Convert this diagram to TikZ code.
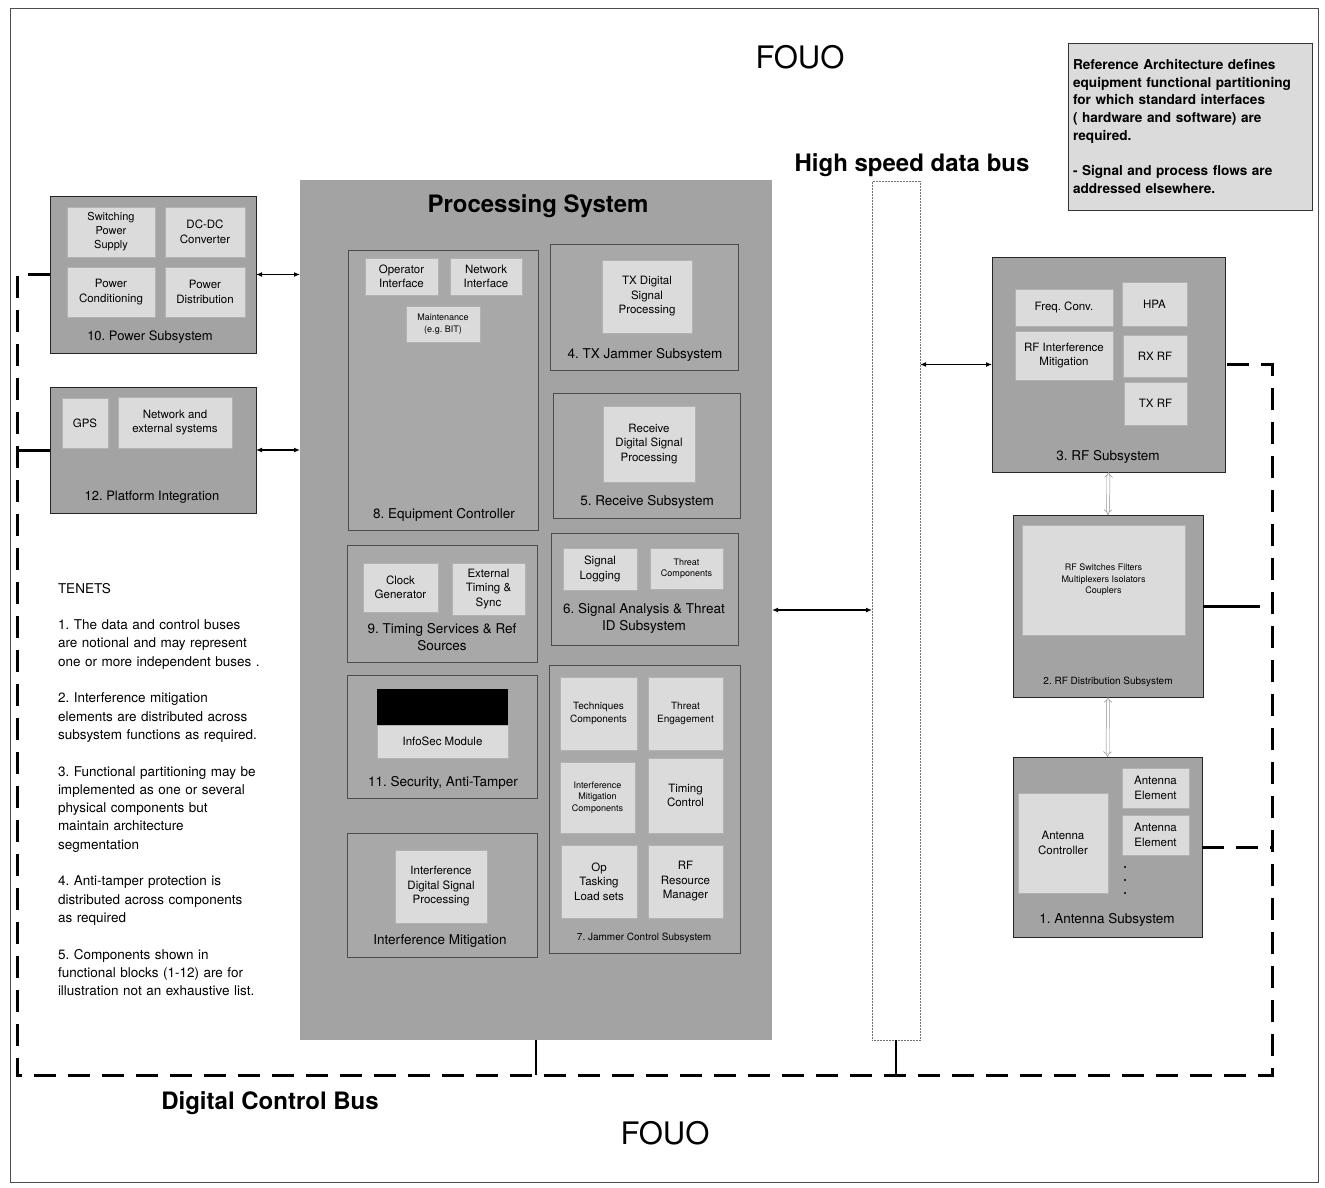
\documentclass[tikz,border=0pt]{standalone}
\usepackage{fontspec}
\setmainfont{TeX Gyre Heros}
\usetikzlibrary{arrows.meta}
\frenchspacing
\newcommand\fs[2]{\fontsize{#1}{#2}\selectfont}
\definecolor{gproc}{gray}{0.64}
\definecolor{gsub}{gray}{0.66}
\definecolor{gouter}{gray}{0.64}
\definecolor{gcomp}{gray}{0.86}
\definecolor{gnote}{gray}{0.86}
\newcommand\bx[7]{\node[#6, minimum width={(#4-#2)*1pt}, minimum height={(#5-#3)*1pt}] (#1) at ({(#2+#4)/2},{(#3+#5)/2}) {#7};}
\begin{document}
\begin{tikzpicture}[x=1pt,y=-1pt,
  every node/.style={inner sep=1pt, outer sep=0pt},
  framebox/.style={draw=black!70, line width=0.6pt},
  procbox/.style={fill=gproc},
  outerbox/.style={draw=black!85, line width=0.6pt, fill=gouter},
  subbox/.style={draw=black!70, line width=0.5pt, fill=gsub},
  comp/.style={draw=black!30, line width=0.4pt, fill=gcomp, align=center, font=\fs{11.5}{14.5}},
  smallc/.style={font=\fs{9}{11.5}},
  midc/.style={font=\fs{10}{12.5}},
  busbox/.style={draw=black!55, densely dotted, line width=0.5pt, fill=white},
  notebox/.style={draw=black!80, line width=0.6pt, fill=gnote},
  lbl/.style={font=\fs{13.5}{17}, align=center, inner sep=0pt},
  slbl/.style={font=\fs{10}{12}, align=center, inner sep=0pt},
  title/.style={font=\bfseries\fs{24}{28}, inner sep=0pt},
  cbus/.style={line width=3pt, dash pattern=on 22pt off 12pt},
  stub/.style={line width=3pt},
  vstub/.style={line width=2pt},
  darr/.style={line width=1.6pt, {Latex[length=6pt,width=5pt]}-{Latex[length=6pt,width=5pt]}},
  harr/.style={draw=black!45, line width=0.5pt, double=white, double distance=2.5pt, {Implies}-{Implies}}
]
\useasboundingbox (0,0) rectangle (1325,1188);
\bx{frame}{10}{8}{1318}{1182}{framebox}{}

% titles
\node[font=\fs{31}{34}, inner sep=0pt] (fouotop) at (800,57) {FOUO};
\node[font=\fs{31}{34}, inner sep=0pt] (fouobot) at (665,1133) {FOUO};
\node[title] (hsl) at (912,165) {High speed data bus};
\node[title] (dcb) at (270,1103) {Digital Control Bus};

% note
\node[notebox, anchor=north west, text width=234pt, minimum height=167pt, inner sep=5pt, align=left,
  font=\bfseries\fs{13.6}{17.7}] (note) at (1068,43)
  {Reference Architecture defines\\equipment functional partitioning\\for which standard interfaces\\( hardware and software) are\\required.\\[17.7pt]- Signal and process flows are\\addressed elsewhere.};

% tenets
\node[anchor=north west, text width=250pt, align=left, inner sep=0pt, font=\fs{13.5}{18.3}] (ten) at (58,583)
  {TENETS\\[18.3pt]
   1. The data and control buses\\are notional and may represent\\one or more independent buses .\\[18.3pt]
   2. Interference mitigation\\elements are distributed across\\subsystem functions as required.\\[18.3pt]
   3. Functional partitioning may be\\implemented as one or several\\physical components but\\maintain architecture\\segmentation\\[18.3pt]
   4. Anti-tamper protection is\\distributed across components\\as required\\[18.3pt]
   5. Components shown in\\functional blocks (1-12) are for\\illustration not an exhaustive list.};

% power subsystem
\bx{pw}{50}{196}{256}{353}{outerbox}{}
\bx{sps}{67}{207}{155}{257}{comp,font=\fs{11}{14}}{Switching\\Power\\Supply}
\bx{dcdc}{165}{207}{245}{257}{comp}{DC-DC\\Converter}
\bx{pcond}{67}{267}{155}{317}{comp}{Power\\Conditioning}
\bx{pdist}{165}{267}{245}{317}{comp}{Power\\Distribution}
\node[lbl, font=\fs{13}{16}] (pwl) at (150,337) {10. Power Subsystem};

% platform integration
\bx{pl}{50}{387}{256}{513}{outerbox}{}
\bx{gps}{62}{398}{108}{448}{comp}{GPS}
\bx{net}{118}{397}{232}{448}{comp}{Network and\\external systems}
\node[lbl, font=\fs{13}{16}] (pll) at (152,497) {12. Platform Integration};

% processing system
\bx{ps}{300}{180}{772}{1040}{procbox}{}
\node[title] (psl) at (538,206) {Processing System};

\bx{ec}{348}{250}{538}{530}{subbox}{}
\bx{opi}{365}{258}{438}{295}{comp}{Operator\\Interface}
\bx{nwi}{450}{258}{522}{295}{comp}{Network\\Interface}
\bx{mnt}{406}{306}{480}{342}{comp,smallc}{Maintenance\\(e.g. BIT)}
\node[lbl] (ecl) at (444,515) {8. Equipment Controller};

\bx{tx}{550}{244}{738}{370}{subbox}{}
\bx{txd}{602}{260}{692}{333}{comp}{TX Digital\\Signal\\Processing}
\node[lbl] (txl) at (645,355) {4. TX Jammer Subsystem};

\bx{rx}{553}{393}{740}{518}{subbox}{}
\bx{rxd}{603}{406}{695}{482}{comp}{Receive\\Digital Signal\\Processing}
\node[lbl] (rxl) at (647,502) {5. Receive Subsystem};

\bx{ts}{347}{545}{537}{662}{subbox}{}
\bx{clk}{363}{563}{438}{612}{comp}{Clock\\Generator}
\bx{ext}{452}{563}{525}{615}{comp}{External\\Timing \&\\Sync}
\node[lbl] (tsl) at (442,637) {9. Timing Services \& Ref\\Sources};

\bx{sa}{551}{533}{738}{645}{subbox}{}
\bx{slog}{563}{548}{637}{590}{comp}{Signal\\Logging}
\bx{thc}{650}{548}{723}{589}{comp,smallc}{Threat\\Components}
\node[lbl] (sal) at (644,618) {6. Signal Analysis \& Threat\\ID Subsystem};

\bx{sec}{347}{675}{537}{798}{subbox}{}
\bx{iblk}{377}{689}{508}{725}{fill=black}{}
\bx{isec}{377}{725}{508}{758}{comp}{InfoSec Module}
\node[lbl] (secl) at (443,783) {11. Security, Anti-Tamper};

\bx{im}{347}{833}{537}{957}{subbox}{}
\bx{idsp}{395}{850}{487}{923}{comp}{Interference\\Digital Signal\\Processing}
\node[lbl] (iml) at (440,941) {Interference Mitigation};

\bx{jc}{549}{665}{740}{953}{subbox}{}
\bx{tech}{560}{677}{637}{750}{comp,midc}{Techniques\\Components}
\bx{teng}{648}{677}{723}{750}{comp,midc}{Threat\\Engagement}
\bx{imc}{560}{762}{635}{833}{comp,smallc}{Interference\\Mitigation\\Components}
\bx{tcl}{648}{758}{723}{833}{comp}{Timing\\Control}
\bx{opt}{561}{845}{637}{918}{comp}{Op\\Tasking\\Load sets}
\bx{rfrm}{648}{845}{723}{918}{comp}{RF\\Resource\\Manager}
\node[slbl] (jcl) at (644,938) {7. Jammer Control Subsystem};

% high speed data bus
\bx{hs}{872}{181}{920}{1040}{busbox}{}

% RF subsystem
\bx{rf}{992}{257}{1225}{472}{outerbox}{}
\bx{fc}{1015}{289}{1113}{326}{comp}{Freq. Conv.}
\bx{rfim}{1015}{331}{1113}{380}{comp}{RF Interference\\Mitigation}
\bx{hpa}{1122}{282}{1187}{326}{comp}{HPA}
\bx{rxrf}{1123}{335}{1187}{377}{comp}{RX RF}
\bx{txrf}{1124}{382}{1187}{425}{comp}{TX RF}
\node[lbl] (rfl) at (1108,457) {3. RF Subsystem};

% RF distribution
\bx{rd}{1013}{515}{1203}{697}{outerbox}{}
\bx{rsw}{1022}{525}{1185}{635}{comp,smallc}{RF Switches Filters\\Multiplexers Isolators\\Couplers}
\node[slbl] (rdl) at (1108,682) {2. RF Distribution Subsystem};

% antenna
\bx{an}{1013}{757}{1202}{937}{outerbox}{}
\bx{actl}{1018}{793}{1108}{893}{comp}{Antenna\\Controller}
\bx{ae1}{1122}{768}{1189}{808}{comp}{Antenna\\Element}
\bx{ae2}{1122}{815}{1189}{855}{comp}{Antenna\\Element}
\foreach \yy in {867,880,893} \fill (1125,\yy) circle (1.2pt);
\node[lbl] (anl) at (1107,920) {1. Antenna Subsystem};

% digital control bus
\coordinate (busTL) at (17,274.5);
\coordinate (busBL) at (17,1075);
\coordinate (busBR) at (1272,1075);
\coordinate (busTR) at (1272,364.5);
\draw[cbus] (pw.west) -- (busTL) -- (busBL) -- (busBR) -- (busTR) -- (rf.east);
\draw[stub] (pl.west) -- (pl.west -| busTL);
\draw[stub] (rd.east) -- ([xshift=-12pt]rd.east -| busTR);
\draw[cbus] (an.east) -- (an.east -| busTR);
\draw[vstub] (ps.south) -- (ps.south |- busBL);
\draw[vstub] (hs.south) -- (hs.south |- busBL);

% data connections
\draw[darr] (pw.east) -- (pw.east -| ps.west);
\draw[darr] (pl.east) -- (pl.east -| ps.west);
\draw[darr] (ps.east) -- (ps.east -| hs.west);
\draw[darr] (hs.east |- rf.west) -- (rf.west);
\draw[harr] (rf.south) -- (rd.north);
\draw[harr] (rd.south) -- (an.north);
\end{tikzpicture}
\end{document}
